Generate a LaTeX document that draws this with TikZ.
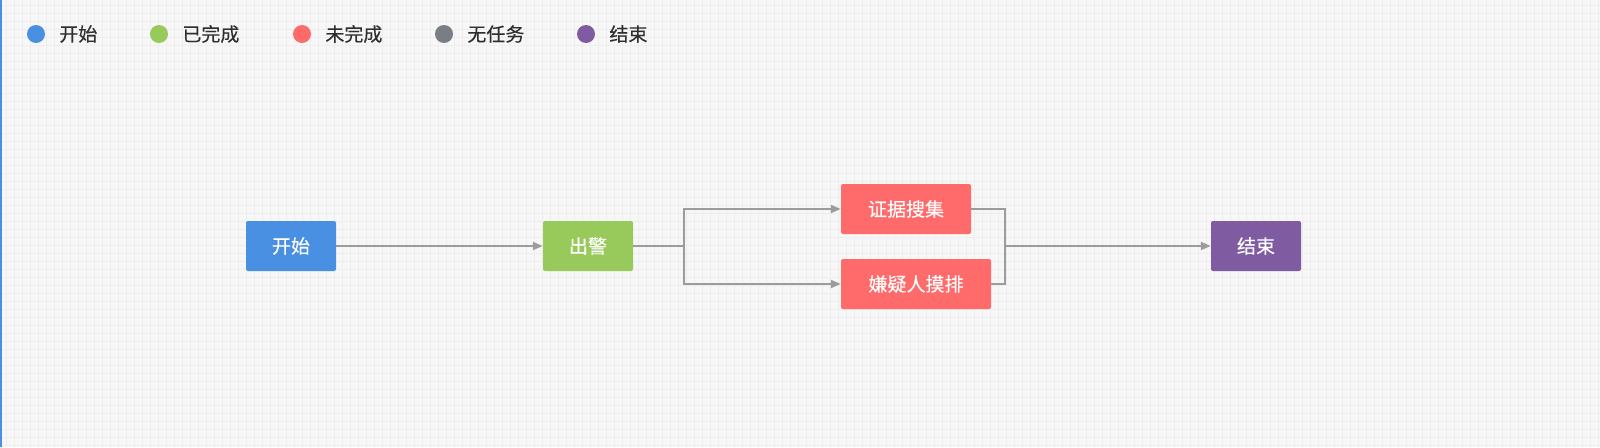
\documentclass[tikz,border=0pt]{standalone}
\usepackage{fontspec}
\setmainfont{Noto Sans CJK SC}
\newfontfamily\cjkmedium[FakeBold=0.25]{Noto Sans CJK SC}
\usepackage{tikz}
\usetikzlibrary{arrows.meta}
\usetikzlibrary{positioning}

\definecolor{startblue}{HTML}{4A90E2}
\definecolor{donegreen}{HTML}{97CA5B}
\definecolor{todored}{HTML}{FF6A6A}
\definecolor{idlegray}{HTML}{787D86}
\definecolor{endpurple}{HTML}{7F5BA1}
\definecolor{flowgray}{HTML}{9C9C9C}
\definecolor{paperbg}{HTML}{F7F7F7}
\definecolor{gridcol}{HTML}{EEEEEE}
\definecolor{legendtext}{HTML}{2E2E2E}

\begin{document}
\begin{tikzpicture}[x=1pt, y=-1pt,
    task/.style={rectangle, rounded corners=2pt, minimum height=50pt, inner sep=0pt,
                 text=white, font=\cjkmedium\fontsize{19pt}{22pt}\selectfont},
    dot/.style={circle, minimum size=18pt, inner sep=0pt},
    legendlabel/.style={anchor=west, inner sep=0pt, text=legendtext,
                 font=\cjkmedium\fontsize{19pt}{22pt}\selectfont}]

    % paper with grid
    \useasboundingbox (0,0) rectangle (1600,447);
    \fill[paperbg] (0,0) rectangle (1600,447);
    \foreach \gx in {6,14,...,1598} {
        \draw[gridcol, line width=1pt] (\gx,0) -- (\gx,447);
    }
    \foreach \gy in {5,13,...,445} {
        \draw[gridcol, line width=1pt] (0,\gy) -- (1600,\gy);
    }
    \draw[startblue, line width=1.5pt] (0.75,0) -- (0.75,447);

    % legend, one dot per state
    \begin{scope}[every node/.style={dot}]
    \node[fill=startblue] (dotstart) at (36,34) {};
    \node[fill=donegreen] (dotdone) at (159,34) {};
    \node[fill=todored] (dottodo) at (302,34) {};
    \node[fill=idlegray] (dotidle) at (444,34) {};
    \node[fill=endpurple] (dotend) at (586,34) {};
    \end{scope}
    \node[legendlabel, right=14pt of dotstart] (labstart) {开始};
    \node[legendlabel, right=14pt of dotdone] (labdone) {已完成};
    \node[legendlabel, right=14pt of dottodo] (labtodo) {未完成};
    \node[legendlabel, right=14pt of dotidle] (labidle) {无任务};
    \node[legendlabel, right=14pt of dotend] (labend) {结束};

    % tasks
    \node[task, fill=startblue, minimum width=90pt] (start) at (291,246) {开始};
    \node[task, fill=donegreen, minimum width=90pt] (chujing) at (588,246) {出警};
    \node[task, fill=todored, minimum width=130pt] (zhengju) at (906,209) {证据搜集};
    \node[task, fill=todored, minimum width=150pt] (xianyi) at (916,284) {嫌疑人摸排};
    \node[task, fill=endpurple, minimum width=90pt] (jieshu) at (1256,246) {结束};

    \coordinate (split) at (684,246);
    \coordinate (merge) at (1005,246);

    % flow lines
    \begin{scope}[>={Triangle[length=10pt, width=8pt]},
              every path/.style={draw=flowgray, line width=2pt}]
    \draw[->] (start) -- (chujing);
    \draw (chujing) -- (split);
    \draw[->] (split) |- (zhengju.west);
    \draw[->] (split) |- (xianyi.west);
    \draw (zhengju.east) -| (merge);
    \draw (xianyi.east) -| (merge);
    \draw[->] (merge) -- (jieshu);
    \end{scope}

\end{tikzpicture}
\end{document}
